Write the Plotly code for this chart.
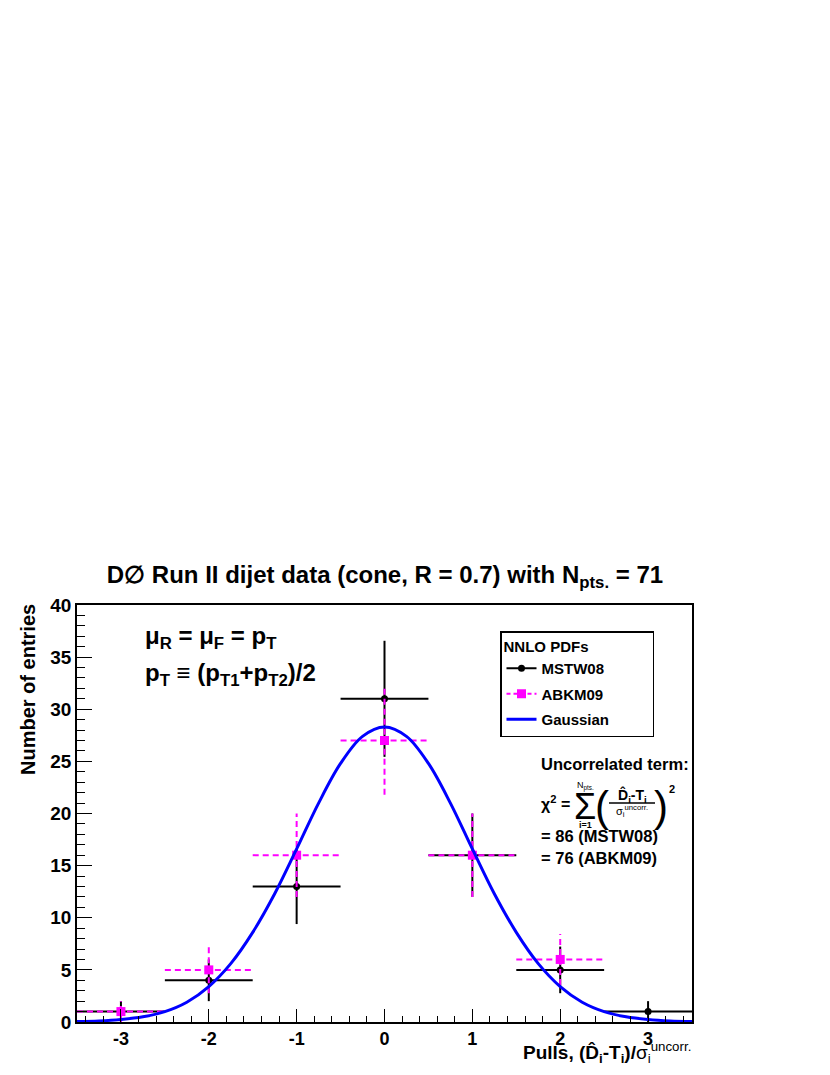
import math
import plotly.graph_objects as go

# Pull bins and entries
pulls = [-3, -2, -1, 0, 1, 2, 3]
pull_labels = ["-3", "-2", "-1", "0", "1", "2", "3"]
mstw08 = [1, 4, 13, 31, 16, 5, 1]
abkm09 = [1, 5, 16, 27, 16, 6, 0]

# Gaussian curve
gauss_x = [-3.5, -3.25, -3.0, -2.75, -2.5, -2.25, -2.0, -1.75, -1.5, -1.25, -1.0, -0.75,
           -0.5, -0.25, 0.0, 0.25, 0.5, 0.75, 1.0, 1.25, 1.5, 1.75, 2.0, 2.25, 2.5,
           2.75, 3.0, 3.25, 3.5]
gauss_y = [0.04, 0.1, 0.24, 0.5, 1.0, 1.9, 3.4, 5.6, 8.6, 12.3, 16.6, 21.0,
           24.8, 27.4, 28.3, 27.4, 24.8, 21.0, 16.6, 12.3, 8.6, 5.6, 3.4, 1.9, 1.0,
           0.5, 0.24, 0.1, 0.04]

FONT = "Liberation Sans, Arial, sans-serif"
BLACK = "black"
MAGENTA = "#ff00ff"
BLUE = "#0000ff"

# page has an 8px body margin
OFF = 8
W, H = 830 - 2 * OFF, 1075 - 2 * OFF
# plot frame in screen pixels (for text placement)
L, R, T, B = 77, 692, 605, 1022


def px(x):
    return (x - L) / (R - L)


def py(y):
    return (B - y) / (B - T)


def err_segments(xs, ys):
    sx, sy = [], []
    for x, y in zip(xs, ys):
        if y <= 0:
            continue
        e = math.sqrt(y)
        sx += [x - 0.5, x + 0.5, None, x, x, None]
        sy += [y, y, None, y - e, y + e, None]
    return sx, sy


fig = go.Figure()

mx, my = err_segments(pulls, mstw08)
fig.add_trace(go.Scatter(x=mx, y=my, mode="lines", line=dict(color=BLACK, width=2),
                         showlegend=False, hoverinfo="skip"))
fig.add_trace(go.Scatter(x=pulls, y=mstw08, mode="markers", showlegend=False,
                         marker=dict(color=BLACK, size=7, symbol="circle")))

ax_, ay_ = err_segments(pulls, abkm09)
fig.add_trace(go.Scatter(x=ax_, y=ay_, mode="lines",
                         line=dict(color=MAGENTA, width=2, dash="6px,4px"),
                         showlegend=False, hoverinfo="skip"))
ab_x = [x for x, y in zip(pulls, abkm09) if y > 0]
ab_y = [y for y in abkm09 if y > 0]
fig.add_trace(go.Scatter(x=ab_x, y=ab_y, mode="markers", showlegend=False,
                         marker=dict(color=MAGENTA, size=9, symbol="square")))

fig.add_trace(go.Scatter(x=gauss_x, y=gauss_y, mode="lines", line_shape="spline",
                         line=dict(color=BLUE, width=3), showlegend=False))

# legend entries
pad = "&nbsp;" * 9
fig.add_trace(go.Scatter(x=[None], y=[None], mode="lines+markers", name="<b>MSTW08</b>",
                         legendgroup="a", line=dict(color=BLACK, width=2),
                         marker=dict(color=BLACK, size=7, symbol="circle")))
fig.add_trace(go.Scatter(x=[None], y=[None], mode="lines+markers", name="<b>ABKM09</b>",
                         legendgroup="b", line=dict(color=MAGENTA, width=2, dash="4px,3px"),
                         marker=dict(color=MAGENTA, size=9, symbol="square")))
fig.add_trace(go.Scatter(x=[None], y=[None], mode="lines", name="<b>Gaussian</b>" + pad,
                         legendgroup="c", line=dict(color=BLUE, width=3)))

ann = []


def text(x, y, s, size, xanchor="left", yanchor="middle", angle=0):
    ann.append(dict(x=px(x), y=py(y), xref="paper", yref="paper", text=s, showarrow=False,
                    xanchor=xanchor, yanchor=yanchor, textangle=angle,
                    font=dict(family=FONT, size=size, color=BLACK)))


text(28, 690, "<b>Number of entries</b>", 20, xanchor="center", angle=-90)

text(143, 637, "<b>μ<sub>R</sub> = μ<sub>F</sub> = p<sub>T</sub></b>", 24)
text(143, 674, "<b>p<sub>T</sub> ≡ (p<sub>T1</sub>+p<sub>T2</sub>)/2</b>", 24)

text(539, 764, "<b>Uncorrelated term:</b>", 16.5)
text(539, 803, "<b>χ<sup>2</sup> =</b>", 16)
text(585, 806, "Σ", 36, xanchor="center")
text(585, 786, "N<sub>pts.</sub>", 9, xanchor="center")
text(585, 825, "<b>i=1</b>", 9, xanchor="center")
text(602, 806, "(", 42, xanchor="center")
text(661, 806, ")", 42, xanchor="center")
text(632, 795, "<b>D̂<sub>i</sub>-T<sub>i</sub></b>", 14, xanchor="center")
text(632, 811, "σ<sub>i</sub><sup>uncorr.</sup>", 11, xanchor="center")
text(672, 789, "<b>2</b>", 11, xanchor="center")
text(539, 836, "<b>= 86 (MSTW08)</b>", 16.5)
text(539, 858, "<b>= 76 (ABKM09)</b>", 16.5)

text(693, 1052, "<b>Pulls, (D̂<sub>i</sub>-T<sub>i</sub>)/</b>σ<sub>i</sub><sup>uncorr.</sup>", 19,
     xanchor="right")

shapes = [dict(type="line", xref="paper", yref="paper", x0=px(609), x1=px(655),
               y0=py(803), y1=py(803), line=dict(color=BLACK, width=1.5))]

fig.update_layout(
    width=W, height=H,
    margin=dict(l=L - OFF, r=W - (R - OFF), t=T - OFF, b=H - (B - OFF)),
    paper_bgcolor="white", plot_bgcolor="white",
    font=dict(family=FONT, color=BLACK),
    title=dict(text="<b>D∅ Run II dijet data (cone, R = 0.7) with N<sub>pts.</sub> = 71</b>",
               x=px(385), xref="paper", xanchor="center",
               y=1 - (575 - OFF) / H, yanchor="middle",
               font=dict(family=FONT, size=24, color=BLACK)),
    annotations=ann,
    shapes=shapes,
    legend=dict(x=px(500), y=py(631), xanchor="left", yanchor="top",
                bgcolor="white", bordercolor=BLACK, borderwidth=1.5,
                traceorder="grouped", tracegroupgap=3,
                font=dict(family=FONT, size=15, color=BLACK),
                title=dict(text="<b>NNLO PDFs</b>", font=dict(family=FONT, size=15))),
    xaxis=dict(range=[-3.5, 3.5], tickvals=pulls,
               ticktext=["<b>%s</b>" % t for t in pull_labels],
               ticks="inside", ticklen=13, ticklabelstandoff=0,
               tickwidth=1.2, tickcolor=BLACK, showline=True, linecolor=BLACK,
               linewidth=1.5, mirror=True, showgrid=False, zeroline=False,
               tickfont=dict(family=FONT, size=18, color=BLACK),
               minor=dict(ticks="inside", ticklen=6, dtick=0.2, tick0=0,
                          tickcolor=BLACK, tickwidth=1.2, showgrid=False)),
    yaxis=dict(range=[0, 40], dtick=5, ticks="inside", ticklen=15,
               tickwidth=1.2, tickcolor=BLACK, showline=True, linecolor=BLACK,
               linewidth=1.5, mirror=True, showgrid=False, zeroline=False,
               tickfont=dict(family=FONT, size=19, color=BLACK),
               tickprefix="<b>", ticksuffix="</b>",
               minor=dict(ticks="inside", ticklen=8, dtick=1,
                          tickcolor=BLACK, tickwidth=1.2, showgrid=False)),
)

fig.write_html("out.html")
